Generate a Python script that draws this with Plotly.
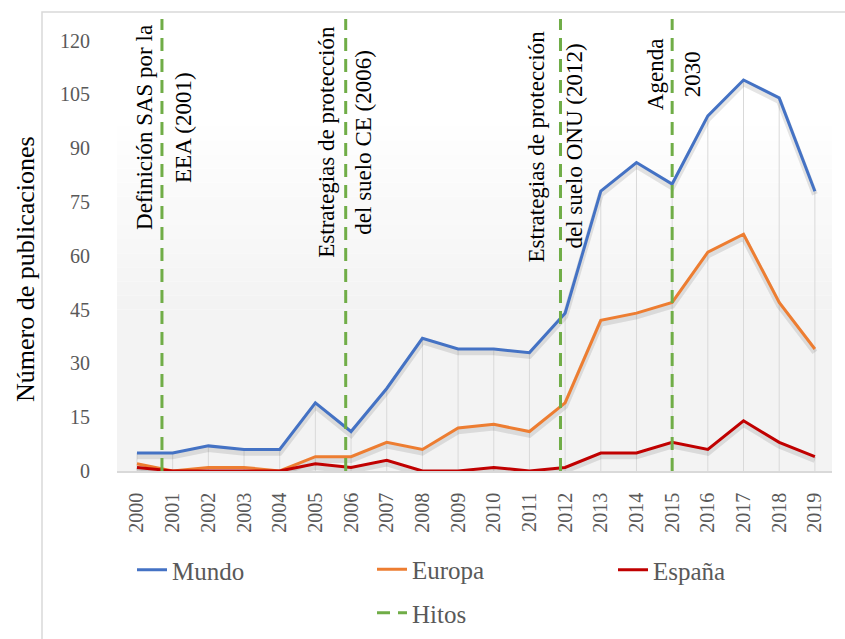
import plotly.graph_objects as go

# ---- data ----
years = list(range(2000, 2020))
mundo = [5, 5, 7, 6, 6, 19, 11, 23, 37, 34, 34, 33, 44, 78, 86, 80, 99, 109, 104, 78]
europa = [2, 0, 1, 1, 0, 4, 4, 8, 6, 12, 13, 11, 19, 42, 44, 47, 61, 66, 47, 34]
espana = [1, 0, 0, 0, 0, 2, 1, 3, 0, 0, 1, 0, 1, 5, 5, 8, 6, 14, 8, 4]
hitos_x = [2000.7, 2005.85, 2011.87, 2015.0]
hitos_labels = [
    ["Definición SAS por la", "EEA (2001)"],
    ["Estrategias de protección", "del suelo CE (2006)"],
    ["Estrategias de protección", "del suelo ONU (2012)"],
    ["Agenda", "2030"],
]
y_ticks = [0, 15, 30, 45, 60, 75, 90, 105, 120]

# ---- layout constants ----
W, H = 845, 639
L, R, T, B = 117, 13, 19, 168
Y_MAX = 126
FONT = "Liberation Serif"
plot_w = W - L - R
plot_h = H - T - B
SHADOW_DY = 0.9  # shadow offset in data units (~3 px)

def px_x(p):
    return (p - L) / plot_w

def px_y(p):
    return (H - B - p) / plot_h

fig = go.Figure()

# drop lines from Mundo to axis
dx, dy = [], []
for x, v in zip(years, mundo):
    dx += [x, x, None]
    dy += [0, v, None]
fig.add_trace(go.Scatter(x=dx, y=dy, mode="lines", line=dict(color="#d9d9d9", width=1),
                         hoverinfo="skip", showlegend=False))

series = [("Mundo", mundo, "#4472C4", "legend", "mu"),
          ("Europa", europa, "#ED7D31", "legend2", "eu"),
          ("España", espana, "#C00000", "legend3", "es")]

# soft shadows under the lines
for name, vals, col, leg, grp in series:
    fig.add_trace(go.Scatter(x=years, y=[v - SHADOW_DY for v in vals], mode="lines",
                             line=dict(color="rgba(0,0,0,0.10)", width=6),
                             hoverinfo="skip", showlegend=False))

for name, vals, col, leg, grp in series:
    fig.add_trace(go.Scatter(x=years, y=vals, mode="lines", name=name, legendgroup=grp,
                             line=dict(color=col, width=3), legend=leg))

hx, hy = [], []
for x in hitos_x:
    hx += [x, x, None]
    hy += [0, Y_MAX, None]
fig.add_trace(go.Scatter(x=hx, y=hy, mode="lines", name="Hitos", legendgroup="hi",
                         line=dict(color="#70AD47", width=3, dash="13px,8px"), legend="legend2"))

# background gradient (white top -> light gray bottom)
shapes = []
n = 14
g0, g1 = 243, 255
y_lo, y_hi = 45, 100
for i in range(n):
    a = y_lo + (y_hi - y_lo) * i / n
    b = y_lo + (y_hi - y_lo) * (i + 1) / n
    g = int(round(g0 + (g1 - g0) * (i + 0.5) / n))
    shapes.append(dict(type="rect", xref="paper", yref="y", x0=0, x1=1, y0=a, y1=b,
                       fillcolor=f"rgb({g},{g},{g})", line=dict(width=0), layer="below"))
shapes.append(dict(type="rect", xref="paper", yref="y", x0=0, x1=1, y0=0, y1=y_lo,
                   fillcolor="rgb(243,243,243)", line=dict(width=0), layer="below"))
# outer chart border
shapes.append(dict(type="rect", xref="paper", yref="paper", x0=px_x(42), x1=px_x(860),
                   y0=px_y(660), y1=px_y(12), line=dict(color="#d9d9d9", width=1.5),
                   fillcolor="rgba(0,0,0,0)", layer="below"))

annotations = []
label_center_px = [127, 142, 146, 74]
label_dx = [(-18, 21), (-20, 17), (-24, 14), (-17, 20)]
for x, lines, cy, (d1, d2) in zip(hitos_x, hitos_labels, label_center_px, label_dx):
    for txt, d in zip(lines, (d1, d2)):
        annotations.append(dict(x=x, xref="x", y=px_y(cy), yref="paper", text=txt,
                                textangle=-90, showarrow=False, xshift=d,
                                xanchor="center", yanchor="middle",
                                font=dict(family=FONT, size=23, color="#000000")))
annotations.append(dict(x=px_x(25), y=px_y(269), xref="paper", yref="paper",
                        text="Número de publicaciones", textangle=-90, showarrow=False,
                        xanchor="center", yanchor="middle",
                        font=dict(family=FONT, size=26, color="#000000")))

leg_font = dict(family=FONT, size=25, color="#595959")
fig.update_layout(
    width=W, height=H,
    margin=dict(l=L, r=R, t=T, b=B, autoexpand=False),
    paper_bgcolor="white", plot_bgcolor="white",
    font=dict(family=FONT, size=20, color="#595959"),
    shapes=shapes, annotations=annotations,
    xaxis=dict(range=[1999.44, 2019.48], tickvals=years, ticktext=[str(y) for y in years],
               tickangle=-90, showgrid=False, zeroline=False, showline=True,
               linecolor="#d9d9d9", linewidth=1.5, ticks="", ticklabelstandoff=12,
               tickfont=dict(family=FONT, size=20, color="#595959")),
    yaxis=dict(range=[0, Y_MAX], tickvals=y_ticks, showgrid=False, zeroline=False,
               showline=False, ticks="", ticklabelstandoff=26,
               tickfont=dict(family=FONT, size=20, color="#595959")),
    legend=dict(orientation="h", x=px_x(132), xanchor="left", yref="container",
                y=1 - 570 / H, yanchor="middle", bgcolor="rgba(0,0,0,0)", font=leg_font),
    legend2=dict(orientation="v", x=px_x(372), xanchor="left", yref="container",
                 y=1 - 591 / H, yanchor="middle", bgcolor="rgba(0,0,0,0)", font=leg_font,
                 tracegroupgap=8),
    legend3=dict(orientation="h", x=px_x(613), xanchor="left", yref="container",
                 y=1 - 570 / H, yanchor="middle", bgcolor="rgba(0,0,0,0)", font=leg_font),
)

fig.write_html("out.html", config={"displayModeBar": False},
               post_script="document.body.style.margin='0';document.body.style.overflow='hidden';")
